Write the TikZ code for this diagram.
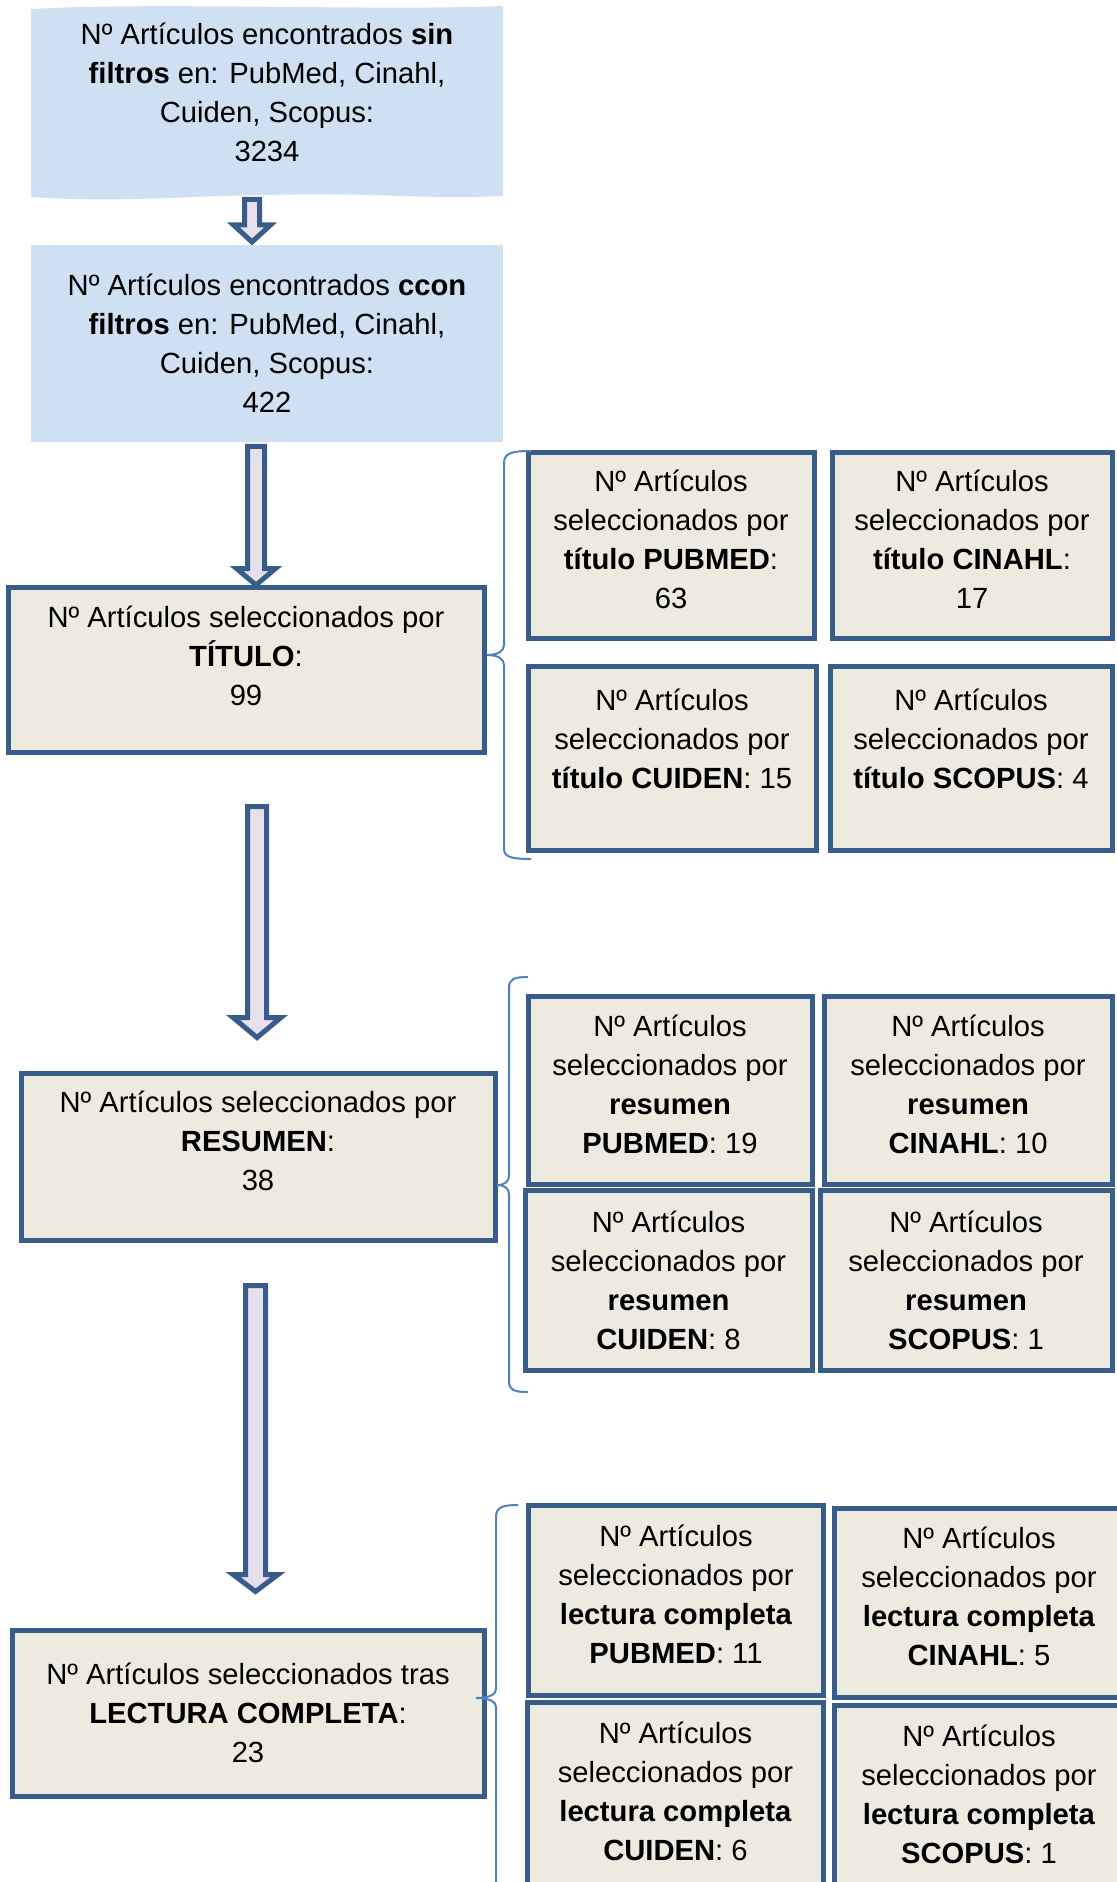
\documentclass[tikz,border=0pt]{standalone}
\usepackage{fontspec}
\setmainfont{Liberation Sans}

\tikzset{every picture/.style={line width=0.75pt}}
\tikzset{
  txt/.style={font=\fontsize{14.6}{19.5}\selectfont, align=center, inner sep=0.75pt},
  bluebox/.style={txt, fill={rgb, 255:red, 206; green, 224; blue, 242 }},
  greybox/.style={txt, draw={rgb, 255:red, 56; green, 93; blue, 138 }, line width=2.5pt, fill={rgb, 255:red, 237; green, 235; blue, 224 }},
  blockarrow/.style={draw={rgb, 255:red, 56; green, 93; blue, 138 }, line width=2.5pt, fill={rgb, 255:red, 229; green, 224; blue, 236 }},
  bracket/.style={draw={rgb, 255:red, 79; green, 129; blue, 189 }, line width=1pt},
}

\begin{document}
\begin{tikzpicture}[x=0.5pt,y=0.5pt,yscale=-1]
\useasboundingbox (0,0) rectangle (1117,1882);
\clip (0,0) rectangle (1117,1882);

%Shape: Punched Tape
\fill [bluebox] (31,9) .. controls (150,2) and (380,11) .. (503,6) -- (503,196) .. controls (420,200) and (380,192) .. (267,195) .. controls (180,196) and (120,203) .. (31,197) -- cycle ;
% Text Node
\node [txt] (sinfil) at (267,92.5) {Nº Artículos encontrados \textbf{sin}\\ \textbf{filtros} en: PubMed, Cinahl,\\ Cuiden, Scopus:\\ 3234};
% Text Node
\node [bluebox, minimum width=236pt, minimum height=98.5pt] (confil) at (267,343.5) {Nº Artículos encontrados \textbf{ccon}\\ \textbf{filtros} en: PubMed, Cinahl,\\ Cuiden, Scopus:\\ 422};

%Down Arrow
\draw [blockarrow] (244.5,199.5) -- (259.5,199.5) -- (259.5,225) -- (270.5,225) -- (252,242) -- (233.5,225) -- (244.5,225) -- cycle ;
%Down Arrow
\draw [blockarrow] (247.5,446.5) -- (264.5,446.5) -- (264.5,568.5) -- (275.5,568.5) -- (256,585) -- (236.5,568.5) -- (247.5,568.5) -- cycle ;
%Down Arrow
\draw [blockarrow] (247.5,806.5) -- (266.5,806.5) -- (266.5,1017.5) -- (281,1017.5) -- (257,1037.5) -- (233,1017.5) -- (247.5,1017.5) -- cycle ;
%Down Arrow
\draw [blockarrow] (245.5,1285.5) -- (265.5,1285.5) -- (265.5,1574.5) -- (278,1574.5) -- (255.5,1591.5) -- (233,1574.5) -- (245.5,1574.5) -- cycle ;

% Title step
\node [greybox, minimum width=238pt, minimum height=82.5pt] (titulo) at (246,669.5) {Nº Artículos seleccionados por\\ \textbf{TÍTULO}:\\ 99\\[-6pt] \mbox{}};
\node [greybox, minimum width=143pt, minimum height=92.5pt] (tpub) at (671,545.5) {Nº Artículos\\ seleccionados por\\ \textbf{título PUBMED}:\\ 63\\[-13.5pt] \mbox{}};
\node [greybox, minimum width=140pt, minimum height=92.5pt] (tcin) at (972,545.5) {Nº Artículos\\ seleccionados por\\ \textbf{título CINAHL}:\\ 17\\[-13.5pt] \mbox{}};
\node [greybox, minimum width=144pt, minimum height=92pt] (tcui) at (672,758) {Nº Artículos\\ seleccionados por\\ \textbf{título CUIDEN}: 15\\ \mbox{}};
\node [greybox, minimum width=141pt, minimum height=92pt] (tsco) at (971,758) {Nº Artículos\\ seleccionados por\\ \textbf{título SCOPUS}: 4\\ \mbox{}};

% Abstract step
\node [greybox, minimum width=237pt, minimum height=83.5pt] (resumen) at (258,1156.5) {Nº Artículos seleccionados por\\ \textbf{RESUMEN}:\\ 38\\[-4pt] \mbox{}};
\node [greybox, minimum width=142pt, minimum height=94pt] (rpub) at (670,1090) {Nº Artículos\\ seleccionados por\\ \textbf{resumen}\\ \textbf{PUBMED}: 19\\[-13.5pt] \mbox{}};
\node [greybox, minimum width=144pt, minimum height=94pt] (rcin) at (968,1090) {Nº Artículos\\ seleccionados por\\ \textbf{resumen}\\ \textbf{CINAHL}: 10\\[-13.5pt] \mbox{}};
\node [greybox, minimum width=143.5pt, minimum height=90pt] (rcui) at (668.5,1280) {Nº Artículos\\ seleccionados por\\ \textbf{resumen}\\ \textbf{CUIDEN}: 8};
\node [greybox, minimum width=146pt, minimum height=90pt] (rsco) at (966,1280) {Nº Artículos\\ seleccionados por\\ \textbf{resumen}\\ \textbf{SCOPUS}: 1};

% Full reading step
\node [greybox, minimum width=236pt, minimum height=83pt] (lectura) at (248,1713) {Nº Artículos seleccionados tras\\ \textbf{LECTURA COMPLETA}:\\ 23};
\node [greybox, minimum width=147.5pt, minimum height=95pt] (lpub) at (676,1600.5) {Nº Artículos\\ seleccionados por\\ \textbf{lectura completa}\\ \textbf{PUBMED}: 11\\[-13.5pt] \mbox{}};
\node [greybox, minimum width=145pt, minimum height=94.5pt] (lcin) at (979,1602.5) {Nº Artículos\\ seleccionados por\\ \textbf{lectura completa}\\ \textbf{CINAHL}: 5\\[-13.5pt] \mbox{}};
\node [greybox, minimum width=148pt, minimum height=95pt] (lcui) at (675.5,1797) {Nº Artículos\\ seleccionados por\\ \textbf{lectura completa}\\ \textbf{CUIDEN}: 6\\[-13.5pt] \mbox{}};
\node [greybox, minimum width=145pt, minimum height=95pt] (lsco) at (979,1800) {Nº Artículos\\ seleccionados por\\ \textbf{lectura completa}\\ \textbf{SCOPUS}: 1\\[-13.5pt] \mbox{}};

%Right Brace
\draw [bracket] (531,451) .. controls (512,451) and (504,453) .. (504,463) -- (504,645) .. controls (504,651) and (498,655) .. (487,655) .. controls (498,655) and (504,659) .. (504,665) -- (504,849) .. controls (504,857) and (512,859) .. (531,859) ;
%Right Brace
\draw [bracket] (528,977) .. controls (514,977) and (509,979) .. (509,988) -- (509,1176) .. controls (509,1181) and (505,1185) .. (497,1185) .. controls (505,1185) and (509,1189) .. (509,1194) -- (509,1381) .. controls (509,1390) and (514,1392) .. (528,1392) ;
%Right Brace
\draw [bracket] (518,1505) .. controls (503,1505) and (496,1507) .. (496,1517) -- (496,1689) .. controls (496,1694) and (490,1698) .. (476,1698) .. controls (490,1698) and (496,1702) .. (496,1707) -- (496,1880) .. controls (496,1889) and (503,1891) .. (518,1891) ;

\end{tikzpicture}
\end{document}
